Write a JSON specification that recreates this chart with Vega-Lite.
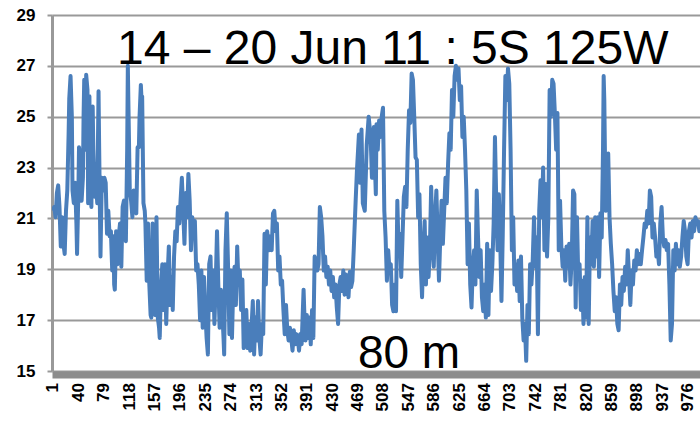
{
  "$schema": "https://vega.github.io/schema/vega-lite/v6.json",
  "width": 648,
  "height": 356,
  "autosize": {"type": "none"},
  "padding": {"left": 52, "top": 15, "right": 0, "bottom": 51},
  "background": "white",
  "config": {"view": {"stroke": null}, "font": "Liberation Sans"},
  "layer": [
    {
      "data": {"values": [
        {"i":1,"t":21.3},{"i":3,"t":21.45},{"i":5,"t":21.05},{"i":7,"t":22.0},{"i":9,"t":22.3},{"i":11,"t":21.45},{"i":13,"t":19.9},{"i":15,"t":21.05},{"i":17,"t":20.0},{"i":19,"t":19.6},
        {"i":21,"t":21.3},{"i":23,"t":22.1},{"i":25,"t":24.3},{"i":26,"t":25.7},{"i":28,"t":26.6},{"i":30,"t":25.0},{"i":31,"t":22.1},{"i":33,"t":21.6},{"i":35,"t":22.4},{"i":37,"t":20.8},
        {"i":38,"t":19.6},{"i":40,"t":22.0},{"i":41,"t":23.8},{"i":43,"t":23.4},{"i":45,"t":21.7},{"i":47,"t":22.6},{"i":48,"t":25.0},{"i":49,"t":26.45},{"i":51,"t":23.7},{"i":52,"t":26.65},
        {"i":54,"t":26.05},{"i":55,"t":21.6},{"i":57,"t":25.8},{"i":58,"t":22.6},{"i":60,"t":21.45},{"i":62,"t":25.4},{"i":63,"t":23.7},{"i":65,"t":21.85},{"i":67,"t":22.5},{"i":69,"t":21.6},
        {"i":71,"t":26.0},{"i":72,"t":23.7},{"i":74,"t":19.5},{"i":76,"t":22.6},{"i":78,"t":22.1},{"i":80,"t":22.6},{"i":82,"t":22.4},{"i":84,"t":20.4},{"i":86,"t":21.3},{"i":88,"t":20.3},
        {"i":90,"t":20.5},{"i":92,"t":18.95},{"i":94,"t":20.3},{"i":95,"t":18.4},{"i":96,"t":18.2},{"i":98,"t":20.5},{"i":100,"t":19.2},{"i":102,"t":20.3},{"i":104,"t":20.8},{"i":106,"t":19.1},
        {"i":108,"t":21.45},{"i":110,"t":21.7},{"i":112,"t":20.3},{"i":113,"t":20.1},{"i":115,"t":23.7},{"i":116,"t":27.0},{"i":117,"t":25.3},{"i":119,"t":22.1},{"i":121,"t":21.7},{"i":123,"t":21.05},
        {"i":125,"t":22.1},{"i":127,"t":21.3},{"i":129,"t":21.2},{"i":131,"t":23.8},{"i":133,"t":23.8},{"i":134,"t":25.0},{"i":136,"t":26.25},{"i":137,"t":25.7},{"i":138,"t":25.8},{"i":140,"t":21.6},
        {"i":142,"t":21.3},{"i":143,"t":20.8},{"i":145,"t":18.55},{"i":147,"t":20.8},{"i":149,"t":18.4},{"i":151,"t":17.2},{"i":152,"t":17.1},{"i":154,"t":20.8},{"i":156,"t":18.4},{"i":158,"t":17.2},
        {"i":160,"t":21.05},{"i":162,"t":17.1},{"i":164,"t":16.7},{"i":165,"t":16.3},{"i":167,"t":18.4},{"i":169,"t":19.2},{"i":171,"t":17.4},{"i":173,"t":19.2},{"i":175,"t":16.85},{"i":177,"t":18.7},
        {"i":179,"t":19.9},{"i":181,"t":17.6},{"i":183,"t":18.7},{"i":185,"t":17.4},{"i":187,"t":19.5},{"i":189,"t":20.5},{"i":191,"t":20.1},{"i":193,"t":21.45},{"i":195,"t":20.8},{"i":197,"t":21.7},
        {"i":199,"t":22.6},{"i":201,"t":21.3},{"i":203,"t":20.0},{"i":205,"t":22.0},{"i":207,"t":21.05},{"i":209,"t":22.75},{"i":211,"t":21.7},{"i":213,"t":19.75},{"i":215,"t":21.05},{"i":217,"t":20.3},
        {"i":219,"t":20.9},{"i":221,"t":18.95},{"i":223,"t":19.2},{"i":225,"t":18.4},{"i":227,"t":17.0},{"i":229,"t":18.95},{"i":231,"t":16.7},{"i":233,"t":18.7},{"i":235,"t":17.4},{"i":237,"t":16.3},
        {"i":239,"t":15.65},{"i":241,"t":19.2},{"i":243,"t":19.5},{"i":245,"t":17.4},{"i":247,"t":18.95},{"i":249,"t":16.85},{"i":251,"t":18.4},{"i":253,"t":20.5},{"i":255,"t":18.4},{"i":257,"t":16.7},
        {"i":259,"t":18.2},{"i":261,"t":17.4},{"i":263,"t":16.3},{"i":264,"t":15.65},{"i":266,"t":19.75},{"i":268,"t":21.2},{"i":270,"t":19.1},{"i":272,"t":16.45},{"i":274,"t":18.95},{"i":276,"t":16.3},
        {"i":278,"t":18.4},{"i":280,"t":19.1},{"i":282,"t":17.6},{"i":284,"t":19.9},{"i":286,"t":18.4},{"i":288,"t":18.95},{"i":290,"t":17.4},{"i":292,"t":18.6},{"i":294,"t":15.9},{"i":296,"t":17.1},
        {"i":298,"t":17.4},{"i":300,"t":15.9},{"i":302,"t":16.85},{"i":304,"t":15.8},{"i":306,"t":16.7},{"i":308,"t":17.75},{"i":310,"t":15.65},{"i":312,"t":17.1},{"i":314,"t":16.2},{"i":316,"t":17.75},
        {"i":318,"t":16.3},{"i":320,"t":15.65},{"i":322,"t":16.85},{"i":324,"t":16.45},{"i":326,"t":20.4},{"i":328,"t":18.4},{"i":330,"t":20.5},{"i":333,"t":19.75},{"i":335,"t":20.3},{"i":337,"t":19.75},
        {"i":339,"t":21.2},{"i":341,"t":21.3},{"i":343,"t":20.5},{"i":345,"t":20.8},{"i":347,"t":18.95},{"i":349,"t":19.5},{"i":351,"t":18.4},{"i":353,"t":18.55},{"i":355,"t":17.4},{"i":357,"t":16.45},
        {"i":359,"t":17.6},{"i":361,"t":16.6},{"i":363,"t":16.2},{"i":365,"t":16.7},{"i":367,"t":16.3},{"i":369,"t":15.8},{"i":371,"t":16.6},{"i":373,"t":16.05},{"i":375,"t":16.45},{"i":377,"t":16.3},
        {"i":379,"t":15.8},{"i":381,"t":16.45},{"i":383,"t":16.05},{"i":386,"t":18.2},{"i":387,"t":17.4},{"i":389,"t":16.2},{"i":391,"t":17.2},{"i":393,"t":16.3},{"i":395,"t":17.1},{"i":397,"t":16.05},
        {"i":399,"t":17.4},{"i":401,"t":16.3},{"i":403,"t":19.5},{"i":405,"t":19.2},{"i":407,"t":18.95},{"i":409,"t":19.2},{"i":411,"t":21.45},{"i":413,"t":21.05},{"i":415,"t":20.3},{"i":417,"t":18.95},
        {"i":419,"t":19.5},{"i":421,"t":18.7},{"i":423,"t":19.1},{"i":425,"t":18.4},{"i":427,"t":18.95},{"i":429,"t":18.15},{"i":431,"t":18.7},{"i":433,"t":17.9},{"i":435,"t":18.4},{"i":437,"t":17.5},
        {"i":439,"t":16.85},{"i":441,"t":18.4},{"i":443,"t":18.7},{"i":445,"t":18.15},{"i":447,"t":18.95},{"i":449,"t":18.0},{"i":451,"t":18.8},{"i":453,"t":18.55},{"i":455,"t":17.9},{"i":457,"t":18.9},
        {"i":459,"t":18.3},{"i":461,"t":18.55},{"i":463,"t":19.75},{"i":466,"t":21.7},{"i":468,"t":22.9},{"i":471,"t":24.3},{"i":473,"t":22.4},{"i":475,"t":24.5},{"i":477,"t":21.6},{"i":480,"t":21.3},
        {"i":483,"t":23.9},{"i":486,"t":25.0},{"i":489,"t":24.2},{"i":491,"t":22.6},{"i":494,"t":24.6},{"i":496,"t":22.75},{"i":497,"t":21.95},{"i":498,"t":24.7},{"i":500,"t":23.7},{"i":502,"t":24.85},
        {"i":504,"t":24.2},{"i":506,"t":25.0},{"i":508,"t":25.35},{"i":510,"t":21.3},{"i":512,"t":20.25},{"i":514,"t":18.55},{"i":516,"t":19.75},{"i":518,"t":18.95},{"i":520,"t":19.2},{"i":522,"t":17.6},
        {"i":524,"t":17.35},{"i":526,"t":18.4},{"i":528,"t":17.35},{"i":530,"t":21.7},{"i":532,"t":19.75},{"i":534,"t":20.4},{"i":536,"t":18.7},{"i":538,"t":20.25},{"i":540,"t":21.85},{"i":542,"t":22.25},
        {"i":544,"t":21.45},{"i":546,"t":23.7},{"i":548,"t":25.25},{"i":550,"t":24.75},{"i":552,"t":26.7},{"i":554,"t":26.45},{"i":556,"t":25.0},{"i":558,"t":23.4},{"i":560,"t":23.3},{"i":562,"t":21.05},
        {"i":564,"t":21.95},{"i":566,"t":19.2},{"i":568,"t":17.9},{"i":570,"t":19.75},{"i":572,"t":20.9},{"i":574,"t":18.4},{"i":576,"t":20.25},{"i":578,"t":18.7},{"i":580,"t":19.75},{"i":582,"t":22.25},
        {"i":584,"t":20.25},{"i":586,"t":19.1},{"i":588,"t":21.05},{"i":590,"t":22.1},{"i":592,"t":20.25},{"i":594,"t":18.55},{"i":596,"t":20.25},{"i":598,"t":21.7},{"i":600,"t":20.0},{"i":602,"t":21.3},
        {"i":604,"t":22.6},{"i":606,"t":21.6},{"i":608,"t":23.15},{"i":610,"t":24.35},{"i":612,"t":23.7},{"i":614,"t":26.05},{"i":616,"t":25.0},{"i":618,"t":26.6},{"i":620,"t":27.0},{"i":622,"t":26.45},
        {"i":624,"t":26.9},{"i":626,"t":25.65},{"i":628,"t":26.2},{"i":630,"t":24.2},{"i":632,"t":25.0},{"i":634,"t":23.7},{"i":636,"t":22.1},{"i":638,"t":19.2},{"i":640,"t":20.8},{"i":642,"t":18.4},
        {"i":644,"t":17.5},{"i":646,"t":19.1},{"i":648,"t":19.75},{"i":650,"t":18.4},{"i":652,"t":22.1},{"i":654,"t":20.25},{"i":656,"t":18.7},{"i":658,"t":19.75},{"i":660,"t":17.9},{"i":662,"t":17.35},
        {"i":664,"t":18.4},{"i":666,"t":17.1},{"i":668,"t":20.0},{"i":670,"t":17.2},{"i":672,"t":19.75},{"i":674,"t":18.15},{"i":676,"t":19.2},{"i":678,"t":20.8},{"i":680,"t":24.2},{"i":682,"t":21.7},
        {"i":684,"t":19.75},{"i":686,"t":21.95},{"i":688,"t":20.25},{"i":690,"t":17.75},{"i":692,"t":20.4},{"i":694,"t":23.7},{"i":696,"t":26.6},{"i":698,"t":25.65},{"i":700,"t":26.9},{"i":702,"t":26.3},
        {"i":704,"t":23.7},{"i":706,"t":19.75},{"i":708,"t":21.05},{"i":710,"t":18.4},{"i":712,"t":19.2},{"i":714,"t":18.15},{"i":716,"t":19.35},{"i":718,"t":17.75},{"i":720,"t":19.5},{"i":722,"t":17.1},
        {"i":724,"t":16.2},{"i":726,"t":16.85},{"i":728,"t":15.4},{"i":730,"t":17.6},{"i":732,"t":16.45},{"i":734,"t":19.2},{"i":736,"t":18.4},{"i":738,"t":19.35},{"i":740,"t":21.05},{"i":742,"t":19.1},
        {"i":744,"t":20.25},{"i":746,"t":16.45},{"i":748,"t":21.3},{"i":750,"t":22.5},{"i":752,"t":21.05},{"i":754,"t":23.0},{"i":756,"t":19.75},{"i":758,"t":22.35},{"i":760,"t":19.5},{"i":762,"t":21.05},
        {"i":764,"t":26.05},{"i":766,"t":25.0},{"i":768,"t":26.45},{"i":770,"t":26.3},{"i":772,"t":25.15},{"i":774,"t":23.7},{"i":776,"t":25.15},{"i":778,"t":19.75},{"i":780,"t":21.7},{"i":782,"t":19.9},
        {"i":784,"t":19.1},{"i":786,"t":19.75},{"i":788,"t":18.55},{"i":790,"t":19.9},{"i":792,"t":19.1},{"i":794,"t":20.0},{"i":796,"t":18.4},{"i":798,"t":19.5},{"i":800,"t":22.1},{"i":802,"t":21.95},
        {"i":804,"t":17.5},{"i":806,"t":21.05},{"i":808,"t":18.7},{"i":810,"t":19.2},{"i":812,"t":17.4},{"i":814,"t":18.55},{"i":816,"t":16.85},{"i":818,"t":18.7},{"i":820,"t":17.1},{"i":822,"t":21.05},
        {"i":824,"t":16.85},{"i":826,"t":20.25},{"i":828,"t":19.2},{"i":830,"t":20.9},{"i":832,"t":19.1},{"i":834,"t":21.05},{"i":836,"t":19.5},{"i":838,"t":21.05},{"i":840,"t":18.7},{"i":842,"t":21.2},
        {"i":844,"t":20.25},{"i":846,"t":23.7},{"i":847,"t":26.6},{"i":848,"t":25.65},{"i":850,"t":21.3},{"i":852,"t":22.1},{"i":854,"t":23.55},{"i":856,"t":21.05},{"i":858,"t":20.0},{"i":860,"t":19.2},
        {"i":862,"t":18.15},{"i":864,"t":17.35},{"i":866,"t":17.9},{"i":868,"t":16.85},{"i":870,"t":16.6},{"i":872,"t":18.4},{"i":874,"t":17.6},{"i":876,"t":18.7},{"i":878,"t":18.15},{"i":880,"t":19.1},
        {"i":882,"t":18.4},{"i":884,"t":19.75},{"i":886,"t":18.7},{"i":888,"t":17.6},{"i":890,"t":18.95},{"i":892,"t":18.4},{"i":894,"t":19.35},{"i":896,"t":18.95},{"i":898,"t":19.75},{"i":900,"t":19.2},
        {"i":902,"t":19.6},{"i":904,"t":19.2},{"i":906,"t":19.75},{"i":908,"t":20.25},{"i":910,"t":20.8},{"i":912,"t":20.65},{"i":914,"t":21.3},{"i":916,"t":20.8},{"i":918,"t":22.1},{"i":920,"t":21.85},
        {"i":922,"t":20.25},{"i":924,"t":20.8},{"i":926,"t":20.25},{"i":928,"t":19.5},{"i":930,"t":19.75},{"i":932,"t":19.2},{"i":934,"t":20.8},{"i":936,"t":21.45},{"i":938,"t":20.25},{"i":940,"t":19.9},
        {"i":942,"t":20.15},{"i":944,"t":19.75},{"i":946,"t":20.0},{"i":948,"t":18.4},{"i":950,"t":16.2},{"i":952,"t":16.85},{"i":954,"t":19.75},{"i":956,"t":18.95},{"i":958,"t":20.0},{"i":960,"t":19.2},
        {"i":962,"t":19.75},{"i":964,"t":19.1},{"i":966,"t":19.5},{"i":968,"t":20.25},{"i":970,"t":20.9},{"i":972,"t":20.5},{"i":974,"t":19.5},{"i":976,"t":19.2},{"i":978,"t":20.5},{"i":980,"t":20.8},
        {"i":982,"t":20.25},{"i":984,"t":20.9},{"i":986,"t":20.5},{"i":988,"t":21.05},{"i":990,"t":20.8},{"i":992,"t":20.9},{"i":994,"t":20.5},{"i":996,"t":20.8}
      ]},
      "mark": {"type": "line", "color": "#4A7EBB", "strokeWidth": 4, "strokeJoin": "round", "clip": true},
      "encoding": {
        "x": {
          "field": "i", "type": "quantitative",
          "scale": {"domain": [-0.5, 995], "nice": false, "zero": false},
          "axis": {
            "values": [1,40,79,118,157,196,235,274,313,352,391,430,469,508,547,586,625,664,703,742,781,820,859,898,937,976],
            "tickCount": 40,
            "labelAngle": 270, "labelAlign": "right", "labelBaseline": "middle",
            "labelFont": "Liberation Sans", "labelFontWeight": "bold", "labelFontSize": 17, "labelColor": "black",
            "ticks": false, "grid": false, "domainColor": "#8C8C8C", "domainWidth": 7, "offset": 3.5,
            "labelPadding": 8, "title": null, "labelOverlap": false, "labelFlush": false, "labelBound": false
          }
        },
        "y": {
          "field": "t", "type": "quantitative",
          "scale": {"domain": [15, 29], "nice": false, "zero": false},
          "axis": {
            "values": [15,17,19,21,23,25,27,29],
            "tickCount": 10,
            "grid": true, "gridColor": "#999999", "gridWidth": 2,
            "tickColor": "#999999", "tickWidth": 2, "tickSize": 5,
            "domainColor": "#999999", "domainWidth": 3,
            "labelFont": "Liberation Sans", "labelFontWeight": "bold", "labelFontSize": 17, "labelColor": "black",
            "labelPadding": 12, "title": null
          }
        }
      }
    },
    {
      "data": {"values": [{"label": "14 – 20 Jun 11 : 5S 125W", "x": 523, "y": 27.09}]},
      "mark": {"type": "text", "font": "Liberation Sans", "fontSize": 48, "align": "center", "baseline": "alphabetic", "color": "black"},
      "encoding": {"text": {"field": "label"}, "x": {"field": "x", "type": "quantitative"}, "y": {"field": "y", "type": "quantitative"}}
    },
    {
      "data": {"values": [{"label": "80 m", "x": 548, "y": 15.12}]},
      "mark": {"type": "text", "font": "Liberation Sans", "fontSize": 46, "align": "center", "baseline": "alphabetic", "color": "black"},
      "encoding": {"text": {"field": "label"}, "x": {"field": "x", "type": "quantitative"}, "y": {"field": "y", "type": "quantitative"}}
    }
  ]
}
